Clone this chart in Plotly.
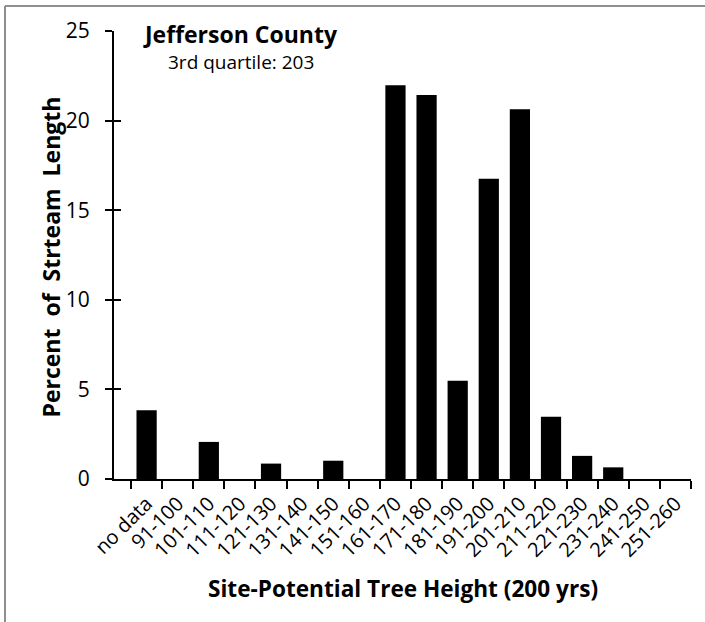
import plotly.graph_objects as go

categories = ["no data", "91-100", "101-110", "111-120", "121-130", "131-140",
              "141-150", "151-160", "161-170", "171-180", "181-190", "191-200",
              "201-210", "211-220", "221-230", "231-240", "241-250", "251-260"]
percent = [3.83, 0, 2.07, 0, 0.86, 0, 1.02, 0, 21.97, 21.43, 5.48, 16.75,
           20.64, 3.47, 1.29, 0.65, 0, 0]
y_ticks = [0, 5, 10, 15, 20, 25]

title_text = "Jefferson County"
subtitle_text = "3rd quartile: 203"
x_title = "Site-Potential Tree Height (200 yrs)"
y_title = "Percent\u00a0 of\u00a0 Strteam\u00a0 Length"

FONT = "Open Sans"

fig = go.Figure()
fig.add_trace(go.Bar(
    x=categories, y=percent,
    marker=dict(color="black", line=dict(width=0)),
    showlegend=False,
))
# invisible trace to carry the overlaid axis for the inner half of the cross ticks
fig.add_trace(go.Scatter(x=categories[:1], y=[0], yaxis="y2", mode="markers",
                         marker=dict(opacity=0), showlegend=False, hoverinfo="skip"))

fig.update_layout(
    width=705, height=622,
    margin=dict(l=114, r=14, t=31, b=143),
    paper_bgcolor="white", plot_bgcolor="white",
    bargap=0.35,
    font=dict(family=FONT, color="black"),
    xaxis=dict(
        type="category", categoryorder="array", categoryarray=categories,
        tickson="boundaries", ticks="outside", ticklen=8, tickwidth=2, tickcolor="black",
        showline=True, linecolor="black", linewidth=2,
        tickangle=-45, tickfont=dict(family=FONT, size=20, color="black"),
        ticklabelstandoff=3,
        showgrid=False, zeroline=False,
    ),
    yaxis=dict(
        range=[0, 25], tickvals=y_ticks, ticks="outside", ticklen=7, tickwidth=2,
        tickcolor="black", showline=True, linecolor="black", linewidth=2,
        tickfont=dict(family=FONT, size=21, color="black"),
        ticklabelstandoff=11,
        showgrid=False, zeroline=False,
    ),
    yaxis2=dict(
        range=[0, 25], tickvals=y_ticks, ticks="inside", ticklen=7, tickwidth=2,
        tickcolor="black", overlaying="y", side="left", showticklabels=False,
        showline=False, showgrid=False, zeroline=False,
    ),
    annotations=[
        dict(text="<b>" + title_text + "</b>", xref="paper", yref="paper",
             x=0.2201, y=0.9933, xanchor="center", yanchor="middle", showarrow=False,
             font=dict(family=FONT, size=23, color="black")),
        dict(text=subtitle_text, xref="paper", yref="paper",
             x=0.2201, y=0.9308, xanchor="center", yanchor="middle", showarrow=False,
             font=dict(family=FONT, size=19, color="black")),
        dict(text="<b>" + x_title + "</b>", xref="paper", yref="paper",
             x=0.5009, y=-0.2455, xanchor="center", yanchor="middle", showarrow=False,
             font=dict(family=FONT, size=22.6, color="black")),
        dict(text="<b>" + y_title + "</b>", xref="paper", yref="paper",
             x=-0.1109, y=0.4944, xanchor="center", yanchor="middle", showarrow=False,
             textangle=-90, font=dict(family=FONT, size=23, color="black")),
    ],
    shapes=[
        dict(type="line", xref="paper", yref="paper",
             x0=-0.1889, y0=-0.5, x1=-0.1889, y1=1.0558,
             line=dict(color="#8f8f8f", width=2), layer="below"),
        dict(type="line", xref="paper", yref="paper",
             x0=-0.1889, y0=1.0558, x1=1.2, y1=1.0558,
             line=dict(color="#8f8f8f", width=2), layer="below"),
    ],
)

fig.write_html(
    "out.html",
    config={"displayModeBar": False},
    post_script="document.body.style.margin='0';document.body.style.overflow='hidden';"
                "document.documentElement.style.overflow='hidden';",
)
